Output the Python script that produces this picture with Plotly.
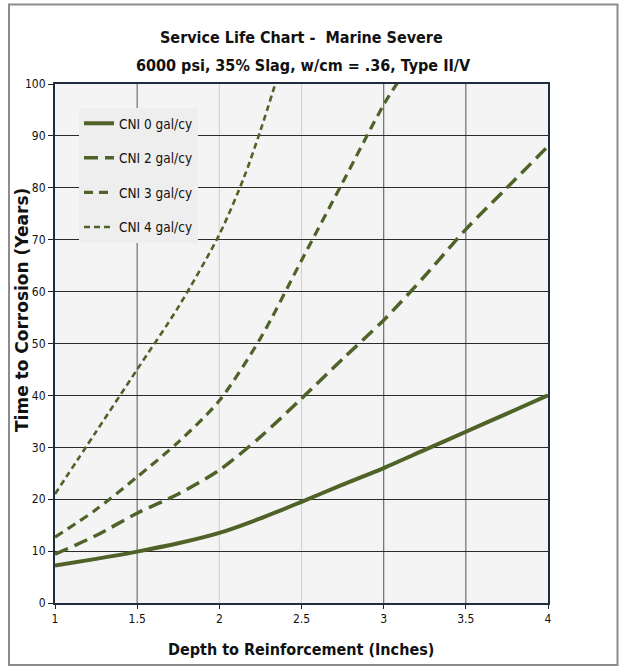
import plotly.graph_objects as go

depth = [1, 1.25, 1.5, 1.75, 2, 2.25, 2.5, 2.75, 3, 3.25, 3.5, 3.75, 4]
cni0 = [7.2, 8.5, 9.9, 11.5, 13.5, 16.3, 19.5, 22.8, 26, 29.5, 33, 36.5, 40]
cni2 = [9.4, 13, 17.3, 21, 25.6, 32, 39.4, 47, 54.5, 63, 72, 80, 88]
depth3 = [1, 1.25, 1.5, 1.75, 2, 2.25, 2.5, 2.75, 3, 3.1]
cni3 = [12.7, 18, 24.3, 31, 39, 51, 66, 81, 96, 101]
depth4 = [1, 1.25, 1.5, 1.75, 2, 2.15, 2.25, 2.35]
cni4 = [21, 33, 45, 57, 71, 82, 91, 101]

names = ["CNI 0 gal/cy", "CNI 2 gal/cy", "CNI 3 gal/cy", "CNI 4 gal/cy"]
xs = [depth, depth, depth3, depth4]
ys = [cni0, cni2, cni3, cni4]
dashes = ["solid", "14px,7px", "9px,6px", "6px,4px"]
widths = [4, 3.5, 3.2, 2.6]

x_ticks = [1, 1.5, 2, 2.5, 3, 3.5, 4]
x_ticklabels = ["1", "1.5", "2", "2.5", "3", "3.5", "4"]
y_ticks = list(range(0, 101, 10))
x_grid_dark = [1.5, 3, 3.5]
x_grid_light = [2, 2.5]

title_lines = ["Service Life Chart -  Marine Severe", "6000 psi, 35% Slag, w/cm = .36, Type II/V"]
x_title = "Depth to Reinforcement (Inches)"
y_title = "Time to Corrosion (Years)"

color = "#4f6228"
narrow = "DejaVu Sans Condensed, Liberation Sans Narrow, Arial Narrow, sans-serif"
frame = "#1f2d3f"

fig = go.Figure()
for x, y, n, d, w in zip(xs, ys, names, dashes, widths):
    fig.add_trace(go.Scatter(x=x, y=y, name=n, legendgroup=n, mode="lines",
                             line=dict(color=color, width=w, dash=d, shape="spline", smoothing=0.8)))

L, R, T, B = 55, 548, 84, 603
W, H = 619, 666
PW, PH = R - L, B - T


def px(xp):
    return (xp - L) / PW


def py(yp):
    return (B - yp) / PH


shapes = []
for g in x_grid_dark:
    shapes.append(dict(type="line", xref="x", yref="paper", x0=g, x1=g, y0=0, y1=1,
                       line=dict(color="#6e6e6e", width=1.2), layer="below"))
for g in x_grid_light:
    shapes.append(dict(type="line", xref="x", yref="paper", x0=g, x1=g, y0=0, y1=1,
                       line=dict(color="#d4d4d4", width=1.2), layer="below"))
shapes.append(dict(type="rect", xref="paper", yref="paper",
                   x0=px(9), x1=px(617.5), y0=py(665), y1=py(4.5),
                   line=dict(color="#8c8c8c", width=2), fillcolor="rgba(0,0,0,0)", layer="below"))

annotations = [
    dict(text="<b>%s</b>" % title_lines[0], xref="paper", yref="paper", x=px(301), y=py(37),
         xanchor="center", yanchor="middle", showarrow=False,
         font=dict(family=narrow, size=16, color="#111")),
    dict(text="<b>%s</b>" % title_lines[1], xref="paper", yref="paper", x=px(303), y=py(65),
         xanchor="center", yanchor="middle", showarrow=False,
         font=dict(family=narrow, size=16, color="#111")),
    dict(text="<b>%s</b>" % x_title, xref="paper", yref="paper", x=px(301), y=py(649),
         xanchor="center", yanchor="middle", showarrow=False,
         font=dict(family=narrow, size=16, color="#111")),
    dict(text="<b>%s</b>" % y_title, xref="paper", yref="paper", x=px(22), y=py(310),
         xanchor="center", yanchor="middle", showarrow=False, textangle=-90,
         font=dict(family="DejaVu Sans, Arial, sans-serif", size=17, color="#111")),
]

fig.update_layout(
    width=W, height=H,
    margin=dict(l=L, r=W - R, t=T, b=H - B, autoexpand=False),
    paper_bgcolor="white",
    plot_bgcolor="#f4f4f4",
    legend=dict(x=px(79), y=py(108), xanchor="left", yanchor="top",
                bgcolor="#eeeeee", font=dict(family=narrow, size=13.5, color="#111"),
                itemwidth=30, tracegroupgap=14),
    showlegend=True,
    xaxis=dict(range=[1, 4], tickvals=x_ticks, ticktext=x_ticklabels, automargin=False,
               showgrid=False,
               showline=True, linecolor=frame, linewidth=2, mirror=True,
               ticks="outside", ticklen=4, tickcolor="#222",
               tickfont=dict(family=narrow, size=12, color="#111"),
               zeroline=False),
    yaxis=dict(range=[0, 100], tickvals=y_ticks, automargin=False,
               showgrid=True, gridcolor="#2a2a2a", gridwidth=1,
               showline=True, linecolor=frame, linewidth=2, mirror=True,
               ticks="outside", ticklen=5, tickcolor="#222",
               tickfont=dict(family=narrow, size=12, color="#111"),
               zeroline=False),
    shapes=shapes,
    annotations=annotations,
)

fig.write_html("out.html", config={"displayModeBar": False},
               post_script="document.body.style.margin='0';document.body.style.overflow='hidden';")
